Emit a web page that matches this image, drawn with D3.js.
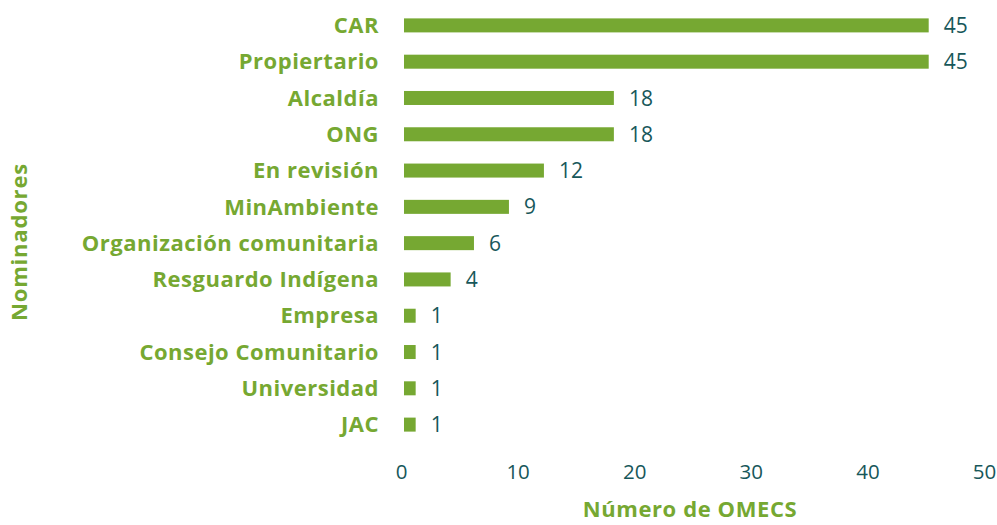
<!DOCTYPE html>
<html>
<head>
<meta charset="utf-8">
<script src="https://cdn.jsdelivr.net/npm/d3@7"></script>
<style>
  body { margin: 0; background: #fff; }
  text { font-family: "Open Sans", sans-serif; }
</style>
</head>
<body>
<div id="chart"></div>
<script>
const categories = ['CAR', 'Propiertario', 'Alcaldía', 'ONG', 'En revisión', 'MinAmbiente',
    'Organización comunitaria', 'Resguardo Indígena', 'Empresa', 'Consejo Comunitario', 'Universidad', 'JAC'];
const values = [45, 45, 18, 18, 12, 9, 6, 4, 1, 1, 1, 1];
const xTicks = [0, 10, 20, 30, 40, 50];

const width = 997;
const height = 525;
const green = '#76a832';
const teal = '#17575a';

const svg = d3.select('#chart')
    .append('svg')
    .attr('width', width)
    .attr('height', height);

const x = d3.scaleLinear()
    .domain([0, 50])
    .range([404, 987]);

const y = d3.scaleBand()
    .domain(categories)
    .range([7.5, 442.5])
    .paddingInner(0.614)
    .paddingOuter(0.3);

// bars
svg.selectAll('.bar')
    .data(categories)
    .enter()
    .append('rect')
    .attr('class', 'bar')
    .attr('x', x(0))
    .attr('y', d => y(d))
    .attr('width', (d, i) => x(values[i]) - x(0))
    .attr('height', y.bandwidth())
    .attr('fill', green);

// value labels
svg.selectAll('.val')
    .data(categories)
    .enter()
    .append('text')
    .attr('class', 'val')
    .attr('x', (d, i) => x(values[i]) + 15)
    .attr('y', d => y(d) + y.bandwidth() / 2)
    .attr('dy', '0.36em')
    .attr('fill', teal)
    .attr('font-size', 21)
    .text((d, i) => values[i]);

// category labels
svg.selectAll('.cat')
    .data(categories)
    .enter()
    .append('text')
    .attr('class', 'cat')
    .attr('x', 379)
    .attr('y', d => y(d) + y.bandwidth() / 2)
    .attr('dy', '0.35em')
    .attr('text-anchor', 'end')
    .attr('fill', green)
    .attr('font-size', 22)
    .attr('font-weight', 700)
    .attr('letter-spacing', 0.5)
    .text(d => d);

// x axis
const xAxis = d3.axisBottom(x)
    .tickValues(xTicks)
    .tickSize(0)
    .tickPadding(0);

const gx = svg.append('g')
    .attr('transform', 'translate(0,464)')
    .call(xAxis);
gx.select('.domain').remove();
gx.selectAll('text')
    .attr('dx', -3)
    .attr('fill', teal)
    .attr('font-size', 20.5)
    .attr('font-family', '"Open Sans", sans-serif');

// axis titles
svg.append('text')
    .attr('x', 690)
    .attr('y', 517)
    .attr('text-anchor', 'middle')
    .attr('fill', green)
    .attr('font-size', 22)
    .attr('font-weight', 700)
    .attr('letter-spacing', 0.6)
    .text('Número de OMECS');

svg.append('text')
    .attr('transform', 'translate(27,242) rotate(-90)')
    .attr('text-anchor', 'middle')
    .attr('fill', green)
    .attr('font-size', 22)
    .attr('font-weight', 700)
    .attr('letter-spacing', 0.8)
    .text('Nominadores');
</script>
</body>
</html>
